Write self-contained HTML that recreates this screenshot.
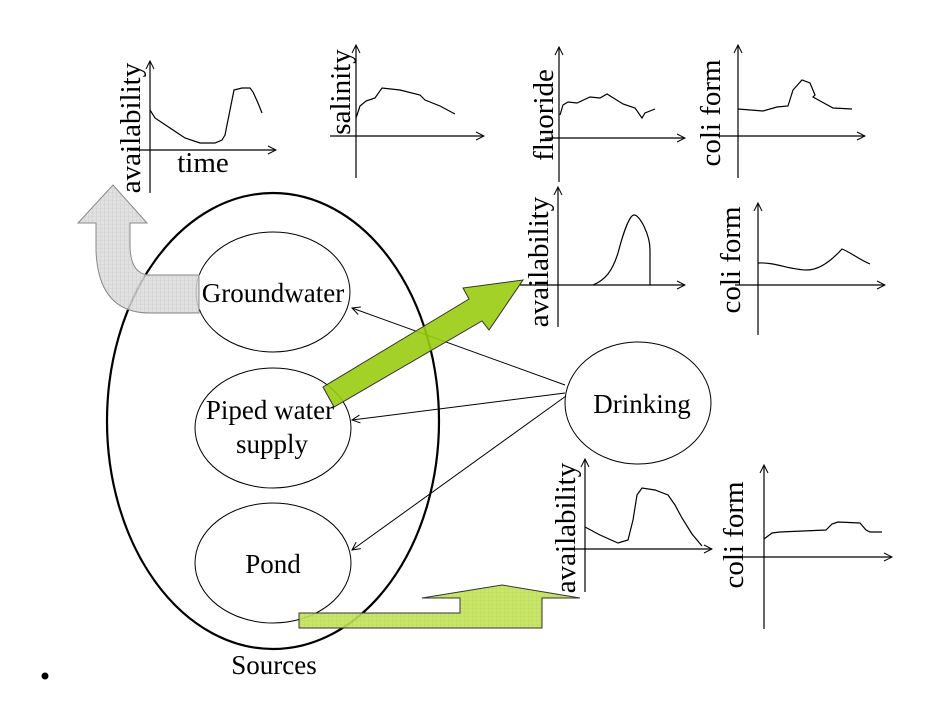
<!DOCTYPE html>
<html><head><meta charset="utf-8"><style>
html,body{margin:0;padding:0;background:#fff;}
svg{display:block;}
text{font-family:"Liberation Serif",serif;fill:#000;}
</style></head><body>
<svg width="942" height="728" viewBox="0 0 942 728" xmlns="http://www.w3.org/2000/svg">
<defs>
<marker id="ah" markerWidth="10" markerHeight="10" refX="9" refY="5" orient="auto" markerUnits="userSpaceOnUse">
<path d="M1,1 L9,5 L1,9" fill="none" stroke="#000" stroke-width="1"/>
</marker>
<pattern id="gg" width="4" height="4" patternUnits="userSpaceOnUse">
<rect width="4" height="4" fill="#dcdcdc"/><path d="M0,0H4M0,0V4" stroke="#bbb" stroke-width="0.6"/>
</pattern>
<pattern id="lg" width="4" height="4" patternUnits="userSpaceOnUse">
<rect width="4" height="4" fill="#c4e35a"/><path d="M0,0H4M0,0V4" stroke="#a8cc3a" stroke-width="0.6"/>
</pattern>
</defs>
<g fill="none" stroke="#000" stroke-width="1.2">
<line x1="150" y1="193" x2="150" y2="61" marker-end="url(#ah)"/>
<line x1="130" y1="150" x2="276" y2="150" marker-end="url(#ah)"/>
<polyline points="150,110 155,118 170,128 185,138 200,143 215,143 222,140 225,135 230,110 234,90 242,88 250,88 253,92 258,103 262,113"/>
<line x1="356" y1="178" x2="356" y2="45" marker-end="url(#ah)"/>
<line x1="330" y1="136" x2="484" y2="136" marker-end="url(#ah)"/>
<polyline points="356,118 360,106 366,101 375,98 382,88 400,90 420,95 425,100 440,106 455,114"/>
<line x1="559" y1="182" x2="559" y2="47" marker-end="url(#ah)"/>
<line x1="545" y1="138" x2="685" y2="138" marker-end="url(#ah)"/>
<polyline points="560,115 563,105 568,102 577,103 590,97 600,98 607,94 615,99 623,104 635,108 642,118 645,113 655,109"/>
<line x1="738" y1="178" x2="738" y2="45" marker-end="url(#ah)"/>
<line x1="718" y1="136" x2="865" y2="136" marker-end="url(#ah)"/>
<polyline points="738,109 763,111 777,107 788,106 793,90 802,80 810,83 815,95 813,97 822,102 833,108 852,109"/>
<line x1="558" y1="327" x2="558" y2="187" marker-end="url(#ah)"/>
<line x1="520" y1="285" x2="685" y2="285" marker-end="url(#ah)"/>
<path d="M593,285 C605,280 612,272 618,253 C624,230 630,215 634,215 C640,215 650,235 650,250 L650,285"/>
<line x1="758" y1="335" x2="758" y2="203" marker-end="url(#ah)"/>
<line x1="735" y1="285" x2="885" y2="285" marker-end="url(#ah)"/>
<path d="M758,263 C775,262 790,270 807,270 C820,270 832,260 842,249 C850,252 860,260 870,264"/>
<line x1="585" y1="592" x2="585" y2="459" marker-end="url(#ah)"/>
<line x1="565" y1="549" x2="712" y2="549" marker-end="url(#ah)"/>
<polyline points="585,527 600,535 618,543 628,540 633,520 637,495 642,488 655,490 668,495 675,505 682,518 692,534 702,546"/>
<line x1="764" y1="629" x2="764" y2="465" marker-end="url(#ah)"/>
<line x1="742" y1="557" x2="892" y2="557" marker-end="url(#ah)"/>
<polyline points="764,539 772,533 780,532 826,530 832,524 838,522 860,523 866,530 870,532 882,532"/>
</g>
<ellipse cx="273" cy="421" rx="166" ry="228" fill="none" stroke="#000" stroke-width="2.2"/>
<g fill="none" stroke="#000" stroke-width="1">
<ellipse cx="273" cy="292" rx="77" ry="60"/>
<ellipse cx="273" cy="428" rx="78" ry="60"/>
<ellipse cx="273" cy="563" rx="78" ry="60"/>
<ellipse cx="638" cy="403" rx="73" ry="61"/>
<line x1="565" y1="385" x2="352" y2="308" marker-end="url(#ah)"/>
<line x1="565" y1="393" x2="352" y2="420" marker-end="url(#ah)"/>
<line x1="566" y1="396" x2="352" y2="550" marker-end="url(#ah)"/>
</g>
<path d="M199,275 L147,275 Q130,272 130,245 L130,223 L147,223 L113,185 L78,223 L96,223 L96,250 Q98,313 150,313 L199,313 Z" fill="url(#gg)" fill-opacity="0.85" stroke="#888" stroke-width="1"/>
<polygon points="323,387 469,299 463,288 523,280 489,330 482,321 334,407" fill="#99cc11" fill-opacity="0.9" stroke="#333" stroke-width="1"/>
<polygon points="299,613 460,613 460,598 422,598 502,585 580,598 542,598 542,628 299,628" fill="url(#lg)" fill-opacity="0.9" stroke="#333" stroke-width="1"/>
<g font-size="29">
<text transform="translate(140,128) rotate(-90)" text-anchor="middle">availability</text>
<text transform="translate(350,92) rotate(-90)" text-anchor="middle">salinity</text>
<text transform="translate(553,115) rotate(-90)" text-anchor="middle">fluoride</text>
<text transform="translate(720,113) rotate(-90)" text-anchor="middle">coli form</text>
<text transform="translate(548,262) rotate(-90)" text-anchor="middle">availability</text>
<text transform="translate(740,260) rotate(-90)" text-anchor="middle">coli form</text>
<text transform="translate(575,528) rotate(-90)" text-anchor="middle">availability</text>
<text transform="translate(743,535) rotate(-90)" text-anchor="middle">coli form</text>
<text x="203" y="172" text-anchor="middle">time</text>
</g>
<g font-size="27" text-anchor="middle">
<text x="273" y="302">Groundwater</text>
<text x="270" y="419">Piped water</text>
<text x="272" y="453">supply</text>
<text x="273" y="573">Pond</text>
<text x="642" y="413">Drinking</text>
<text x="274" y="674">Sources</text>
</g>
<circle cx="45" cy="676" r="3.5" fill="#000"/>
</svg>
</body></html>
